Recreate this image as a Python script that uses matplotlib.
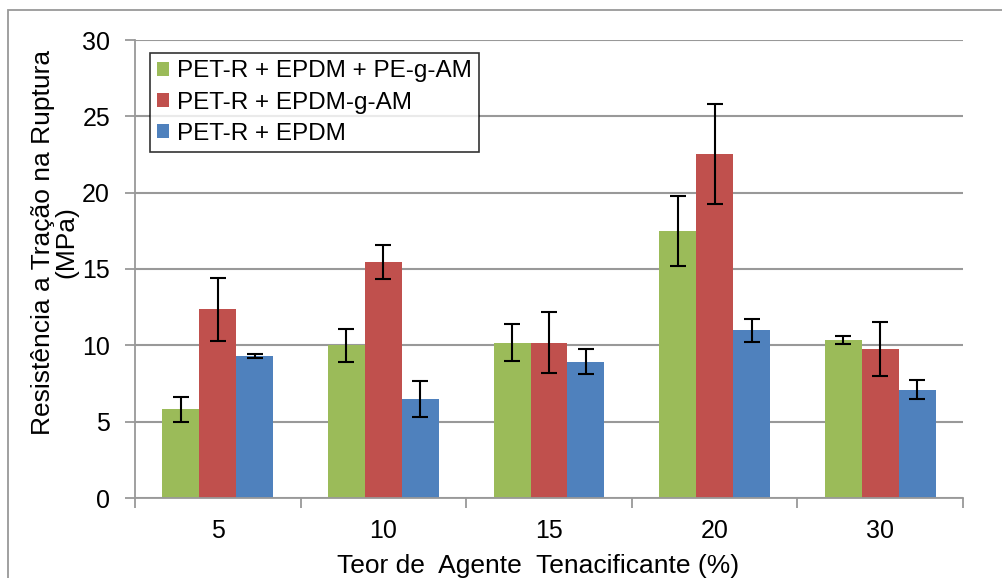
import matplotlib
matplotlib.use("Agg")
import matplotlib.pyplot as plt
import numpy as np
from matplotlib.patches import Rectangle

categories = ["5", "10", "15", "20", "30"]
series_names = ["PET-R + EPDM + PE-g-AM", "PET-R + EPDM-g-AM", "PET-R + EPDM"]
green_vals = [5.8, 10.0, 10.17, 17.5, 10.35]
green_err = [0.8, 1.07, 1.2, 2.3, 0.28]
red_vals = [12.35, 15.47, 10.17, 22.53, 9.76]
red_err = [2.05, 1.1, 2.0, 3.3, 1.8]
blue_vals = [9.28, 6.5, 8.93, 10.98, 7.1]
blue_err = [0.12, 1.17, 0.82, 0.73, 0.63]
colors = ["#9BBB59", "#C0504D", "#4F81BD"]

plt.rcParams['font.family'] = ['Liberation Sans', 'DejaVu Sans']

W, H = 1003, 578
fig = plt.figure(figsize=(W / 100, H / 100), dpi=100)
ax = fig.add_axes([135 / W, 1 - 498 / H, (963 - 135) / W, (498 - 40) / H])

x = np.arange(len(categories))
bw = 0.223
vals = [green_vals, red_vals, blue_vals]
errs = [green_err, red_err, blue_err]
for i, (v, e, c, n) in enumerate(zip(vals, errs, colors, series_names)):
    ax.bar(x + (i - 1) * bw, v, bw, color=c, label=n, zorder=2,
           yerr=e, error_kw=dict(ecolor='black', elinewidth=1.5, capsize=5.5, capthick=1.5, zorder=3))

ax.set_xlim(-0.5, len(categories) - 0.5)
ax.set_ylim(0, 30)
ax.set_yticks(np.arange(0, 31, 5))
ax.set_xticks(x)
ax.set_xticklabels(categories)
ax.set_xticks(np.arange(-0.5, len(categories), 1), minor=True)
ax.tick_params(axis='x', which='major', length=0, labelsize=18, pad=15)
ax.tick_params(axis='x', which='minor', length=7, width=1.3, color='#999999', direction='out')
ax.tick_params(axis='y', length=7, width=1.3, color='#999999', direction='out', labelsize=18, pad=11)
ax.yaxis.grid(True, color='#999999', linewidth=1.5, zorder=0)
ax.set_axisbelow(True)
for s in ['top', 'right']:
    ax.spines[s].set_visible(False)
for s in ['left', 'bottom']:
    ax.spines[s].set_color('#999999')
    ax.spines[s].set_linewidth(1.3)

leg = ax.legend(loc='upper left', bbox_to_anchor=((150 - 135) / (963 - 135), (498 - 53) / (498 - 40)),
                fontsize=17.5, frameon=True, fancybox=False, edgecolor='black',
                handlelength=0.5, handleheight=0.5, handletextpad=0.3,
                labelspacing=0.38, borderpad=0.3, borderaxespad=0)
leg.get_frame().set_linewidth(1.2)

fig.text(55 / W, 1 - 242 / H, "Resistência a Tração na Ruptura\n(MPa)", rotation=90,
         ha='center', va='center', fontsize=19, multialignment='center', linespacing=0.95)
fig.text(538 / W, 1 - 566 / H, "Teor de  Agente  Tenacificante (%)", ha='center', va='center', fontsize=19)

fig.patches.append(Rectangle((8 / W, -0.05), 1.1, 1 - 10 / H + 0.05, transform=fig.transFigure,
                             fill=False, edgecolor='#999999', linewidth=1.3))

fig.savefig("out.png", dpi=100)
